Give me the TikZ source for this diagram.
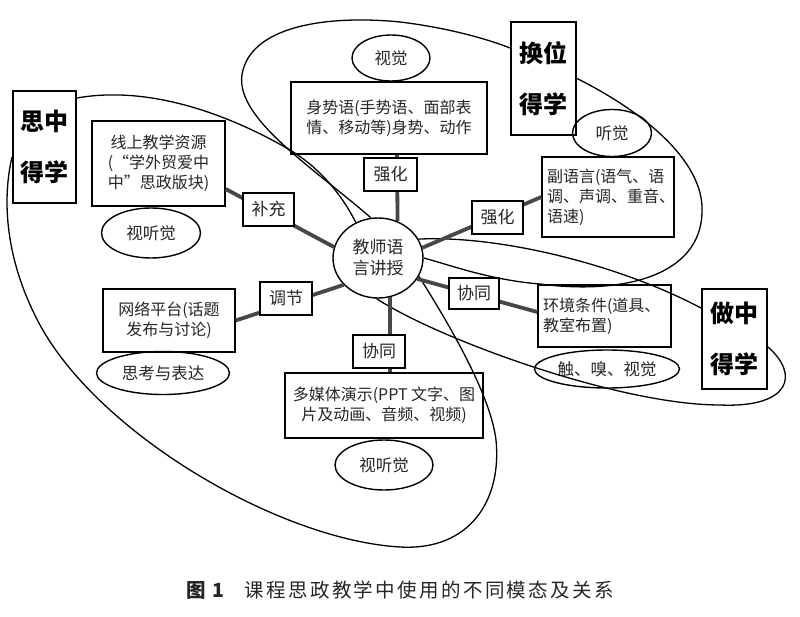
\documentclass[tikz,border=0pt]{standalone}
\usepackage{fontspec}
\setmainfont{Noto Sans CJK SC}
\usetikzlibrary{shapes.geometric,calc}
\begin{document}
\begin{tikzpicture}[x=1pt,y=-1pt]
\tikzset{
  loopline/.style={line width=1.3pt, draw=black},
  conn/.style={line width=3.8pt, draw=black!72},
  txtbox/.style={draw, line width=1.4pt, inner sep=0pt, text=black!85, font=\fontsize{16}{20}\selectfont},
  tagbox/.style={draw, line width=2.6pt, fill=white, inner sep=0pt, text=black!85, font=\fontsize{17}{20}\selectfont},
  sensebox/.style={draw, ellipse, line width=1.4pt, inner sep=0pt, text=black!85, font=\fontsize{16.5}{18}\selectfont},
  bigbox/.style={draw, line width=2pt, inner sep=0pt, align=center, font=\bfseries\fontsize{24}{51}\selectfont},
}
\useasboundingbox (0,0) rectangle (800,617);
\fill[white] (0,0) rectangle (800,617);

% nodes
\node[draw, ellipse, line width=1.4pt, minimum width=90pt, minimum height=80pt, inner sep=0pt, align=center, text=black!85, font=\fontsize{17}{21}\selectfont] (c) at (378,258) {教师语\\言讲授};

\node[txtbox, minimum width=196pt, minimum height=72pt, align=center] (shen) at (389,118) {身势语(手势语、面部表\\情、移动等)身势、动作};
\node[txtbox, minimum width=132pt, minimum height=80pt, text width=122pt, align=left] (fy) at (608,197) {副语言(语气、语\\调、声调、重音、\\语速)};
\node[txtbox, minimum width=133pt, minimum height=85pt, align=center] (xs) at (158.5,163.5) {线上教学资源\\(“学外贸爱中\\中”思政版块)};
\node[txtbox, minimum width=132pt, minimum height=63pt, align=center] (wl) at (169,320.5) {网络平台(话题\\发布与讨论)};
\node[txtbox, minimum width=198pt, minimum height=65pt, align=center] (mm) at (384,405.5) {多媒体演示(PPT 文字、图\\片及动画、音频、视频)};
\node[txtbox, minimum width=133pt, minimum height=62pt, text width=123pt, align=left] (hj) at (604.5,316) {环境条件(道具、\\教室布置)};

\node[bigbox, minimum width=63pt, minimum height=112pt] (sz) at (44.5,147) {思中\\得学};
\node[bigbox, minimum width=65pt, minimum height=113pt] (hw) at (543.5,78.5) {换位\\得学};
\node[bigbox, minimum width=65pt, minimum height=100pt] (zz) at (734.5,339) {做中\\得学};

\node[sensebox, minimum width=78pt, minimum height=46pt] (sj) at (391,58) {视觉};
\node[sensebox, minimum width=79pt, minimum height=47pt] (tjue) at (612,133) {听觉};
\node[sensebox, minimum width=99pt, minimum height=50pt] (st1) at (151,233) {视听觉};
\node[sensebox, minimum width=133pt, minimum height=43pt] (sk) at (163,373) {思考与表达};
\node[sensebox, minimum width=98pt, minimum height=50pt] (st2) at (384,465) {视听觉};
\node[sensebox, minimum width=145pt, minimum height=38pt] (cx) at (607,369) {触、嗅、视觉};

% loops
\draw[loopline] (c.100) .. controls (310,165) and (230,115) .. (243,70)
  .. controls (255,25) and (330,15) .. (400,22)
  .. controls (450,28) and (490,40) .. ([yshift=30.5pt]hw.west);
\draw[loopline] (hw.east) .. controls (640,110) and (705,160) .. (702,213)
  .. controls (700,275) and (625,295) .. (540,284)
  .. controls (490,280) and (450,265) .. (c.0);
\draw[loopline] ([yshift=-8pt]sz.north east) .. controls (150,85) and (230,115) .. (290,150)
  .. controls (320,168) and (342,195) .. (c.122);
\draw[loopline] ([yshift=-10pt]sz.west) .. controls (2,200) and (5,260) .. (40,325)
  .. controls (100,435) and (280,540) .. (400,547)
  .. controls (470,551) and (502,500) .. (496,440)
  .. controls (490,390) and (440,310) .. (c.-24);
\draw[loopline] (c.25) .. controls (500,235) and (620,265) .. ([yshift=31pt]zz.west);
\draw[loopline] ([yshift=-8pt]zz.east) .. controls (800,375) and (790,408) .. (720,405)
  .. controls (620,405) and (440,340) .. (c.268);

% connectors
\draw[conn] ([xshift=8pt]shen.south) -- (c.62);
\draw[conn] (c.13) -- (fy.west);
\draw[conn] ([yshift=-25.5pt]xs.east) -- (c.166);
\draw[conn] (wl.east) -- (c.218);
\draw[conn] (c.-73) -- (c.-73 |- mm.north);
\draw[conn] (c.-28) -- ([yshift=4pt]hj.west);

% tags
\node[tagbox, minimum width=53pt, minimum height=33pt] (q1) at (390.5,174.5) {强化};
\node[tagbox, minimum width=51pt, minimum height=33pt] (q2) at (497.5,217.5) {强化};
\node[tagbox, minimum width=51pt, minimum height=33pt] (bc) at (268.5,209.5) {补充};
\node[tagbox, minimum width=52pt, minimum height=33pt] (tj) at (286,298.5) {调节};
\node[tagbox, minimum width=52pt, minimum height=33pt] (xt1) at (379,351.5) {协同};
\node[tagbox, minimum width=50pt, minimum height=31pt] (xt2) at (474,293.5) {协同};

% caption
\node[font=\fontsize{19.5}{22}\selectfont, text=black!85] (cap) at (400,590) {\addfontfeature{LetterSpace=12}\textbf{图 1}\hspace{18pt}课程思政教学中使用的不同模态及关系};
\end{tikzpicture}
\end{document}
